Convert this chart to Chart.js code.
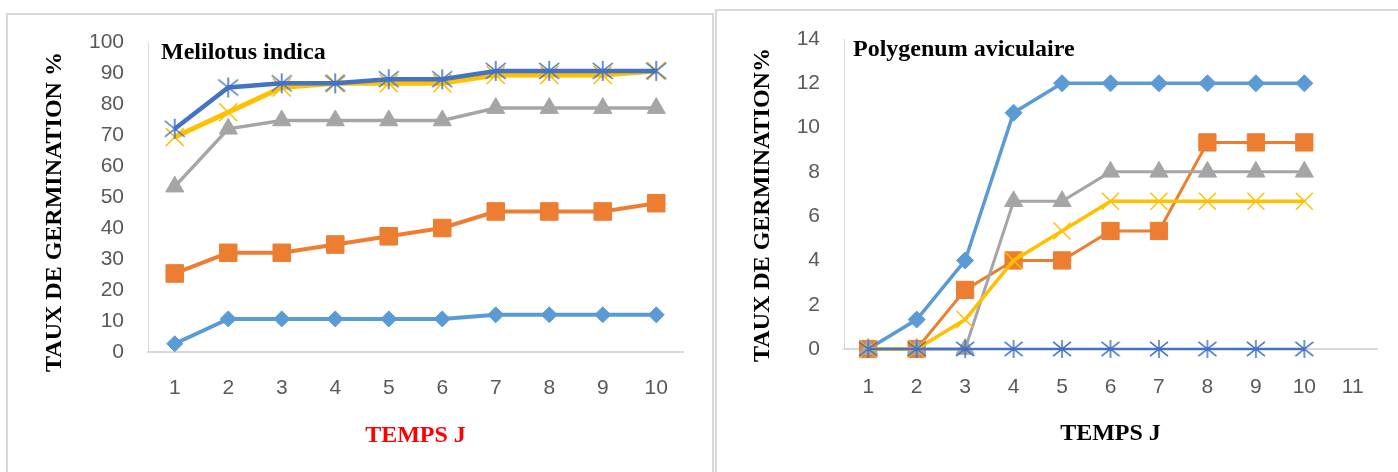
<!DOCTYPE html>
<html>
<head>
<meta charset="utf-8">
<script src="https://cdn.jsdelivr.net/npm/chart.js@4/dist/chart.umd.min.js"></script>
<style>
  html, body { margin: 0; padding: 0; background: #ffffff; }
  body { width: 1398px; height: 472px; position: relative; overflow: hidden; }
  .frame { position: absolute; box-sizing: border-box; border: 2px solid #d9d9d9; background: #ffffff; }
  canvas { position: absolute; }
</style>
</head>
<body>
<div class="frame" style="left:6px; top:13px; width:708px; height:520px;"></div>
<div class="frame" style="left:715px; top:9px; width:720px; height:520px;"></div>
<canvas id="melilotus" width="702" height="457" style="left:9px; top:15px;"></canvas>
<canvas id="polygenum" width="679" height="460" style="left:719px; top:12px;"></canvas>
<script>
// Melilotus indica: germination rate (%) per day
const melDays = ['1', '2', '3', '4', '5', '6', '7', '8', '9', '10'];
const melS1 = [2.67, 10.67, 10.67, 10.67, 10.67, 10.67, 12, 12, 12, 12];
const melS2 = [25.33, 32, 32, 34.67, 37.33, 40, 45.33, 45.33, 45.33, 48];
const melS3 = [53.33, 72, 74.67, 74.67, 74.67, 74.67, 78.67, 78.67, 78.67, 78.67];
const melS4 = [69.33, 77.33, 85.33, 86.67, 86.67, 86.67, 89.33, 89.33, 89.33, 90.67];
const melS5 = [72, 85.33, 86.67, 86.67, 88, 88, 90.67, 90.67, 90.67, 90.67];

// Polygenum aviculaire: germination rate (%) per day
const polDays = ['1', '2', '3', '4', '5', '6', '7', '8', '9', '10', '11'];
const polS1 = [0, 1.33, 4, 10.67, 12, 12, 12, 12, 12, 12];
const polS2 = [0, 0, 2.67, 4, 4, 5.33, 5.33, 9.33, 9.33, 9.33];
const polS3 = [0, 0, 0, 6.67, 6.67, 8, 8, 8, 8, 8];
const polS4 = [0, 0, 1.33, 4, 5.33, 6.67, 6.67, 6.67, 6.67, 6.67];
const polS5 = [0, 0, 0, 0, 0, 0, 0, 0, 0, 0];

const C_LBLUE = '#5b9bd5';
const C_ORANGE = '#ed7d31';
const C_GRAY = '#a5a5a5';
const C_YELLOW = '#ffc000';
const C_DBLUE = '#4472c4';

// Asterisk marker (vertical bar plus two diagonals)
function asterisk(size, color, lw) {
  const c = document.createElement('canvas');
  c.width = size; c.height = size;
  const g = c.getContext('2d');
  g.strokeStyle = color; g.lineWidth = lw;
  const m = size / 2, e = size / 2 - 1;
  g.beginPath();
  g.moveTo(m, m - e); g.lineTo(m, m + e);
  g.moveTo(m - e, m - e * 0.8); g.lineTo(m + e, m + e * 0.8);
  g.moveTo(m - e, m + e * 0.8); g.lineTo(m + e, m - e * 0.8);
  g.stroke();
  return c;
}

function series(data, color, style, radius, lineWidth, order, markerBorder) {
  return {
    data: data,
    borderColor: color,
    backgroundColor: color,
    borderWidth: lineWidth,
    pointStyle: style,
    pointRadius: radius,
    pointBackgroundColor: color,
    pointBorderColor: color,
    pointBorderWidth: markerBorder,
    tension: 0,
    order: order,
    clip: false
  };
}

// Chart heading and rotated y title, placed against the plot area
const panelText = {
  id: 'panelText',
  afterDraw(chart, args, opts) {
    const ctx = chart.ctx;
    const a = chart.chartArea;
    ctx.save();
    ctx.fillStyle = '#000000';
    ctx.font = 'bold 24px "Liberation Serif", "Times New Roman", serif';
    ctx.textAlign = 'left';
    ctx.textBaseline = 'alphabetic';
    ctx.fillText(opts.heading, a.left + opts.headingDx, opts.headingY);
    ctx.translate(opts.yTitleX, opts.yTitleY);
    ctx.rotate(-Math.PI / 2);
    ctx.textAlign = 'center';
    ctx.textBaseline = 'middle';
    ctx.fillText(opts.yTitle, 0, 0);
    ctx.restore();
  }
};

function buildChart(id, labels, datasets, yMax, yStep, area, text, xTitleColor, xTitlePad) {
  return new Chart(document.getElementById(id), {
    type: 'line',
    data: { labels: labels, datasets: datasets },
    plugins: [panelText],
    options: {
      responsive: false,
      animation: false,
      devicePixelRatio: 1,
      events: [],
      layout: { padding: { left: 0, top: area.top, right: area.right, bottom: 0 } },
      plugins: {
        legend: { display: false },
        tooltip: { enabled: false },
        panelText: text
      },
      scales: {
        x: {
          type: 'category',
          offset: true,
          grid: { display: false, drawTicks: false },
          border: { display: true, color: '#d9d9d9', width: 2 },
          ticks: {
            color: '#595959',
            font: { family: '"Liberation Sans", Arial, sans-serif', size: 21 },
            padding: area.tickPadX,
            maxRotation: 0,
            autoSkip: false
          },
          title: {
            display: true,
            text: 'TEMPS J',
            color: xTitleColor,
            font: { family: '"Liberation Serif", "Times New Roman", serif', size: 24, weight: 'bold' },
            padding: { top: xTitlePad, bottom: xTitlePad }
          },
          afterFit(scale) { scale.height = area.xHeight; }
        },
        y: {
          min: 0,
          max: yMax,
          // gap between labels and axis comes from an undrawn tick length
          grid: { display: false, drawTicks: true, tickLength: 24 },
          border: { display: true, color: '#d9d9d9', width: 1 },
          ticks: {
            stepSize: yStep,
            color: '#595959',
            font: { family: '"Liberation Sans", Arial, sans-serif', size: 21 },
            padding: 0
          },
          afterFit(scale) { scale.width = area.yWidth; }
        }
      }
    }
  });
}

const starL = asterisk(22, C_DBLUE, 1.6);
const starR = asterisk(20, C_DBLUE, 1.5);

buildChart('melilotus', melDays, [
  series(melS1, C_LBLUE, 'rectRot', 8, 4, 5, 1),
  series(melS2, C_ORANGE, 'rect', 12.4, 4, 4, 1),
  series(melS3, C_GRAY, 'triangle', 10.5, 3.5, 3, 1),
  series(melS4, C_YELLOW, 'crossRot', 12.7, 5, 2, 1.6),
  series(melS5, C_DBLUE, starL, 11, 4.5, 1, 1)
], 100, 10,
  { top: 27, right: 28, xHeight: 120, yWidth: 139, tickPadX: 24 },
  { heading: 'Melilotus indica', headingDx: 13, headingY: 44, yTitle: 'TAUX DE GERMINATION %', yTitleX: 46, yTitleY: 197 },
  '#ff0000', 21.6);

buildChart('polygenum', polDays, [
  series(polS1, C_LBLUE, 'rectRot', 8.5, 3.5, 5, 1),
  series(polS2, C_ORANGE, 'rect', 12.2, 3, 4, 1),
  series(polS3, C_GRAY, 'triangle', 10.5, 3, 3, 1),
  series(polS4, C_YELLOW, 'crossRot', 12, 3.5, 2, 1.5),
  series(polS5, C_DBLUE, starR, 10, 2.5, 1, 1)
], 14, 2,
  { top: 27, right: 21, xHeight: 123, yWidth: 125, tickPadX: 26 },
  { heading: 'Polygenum aviculaire', headingDx: 9, headingY: 44, yTitle: 'TAUX DE GERMINATION%', yTitleX: 44, yTitleY: 193 },
  '#000000', 23.6);
</script>
</body>
</html>
